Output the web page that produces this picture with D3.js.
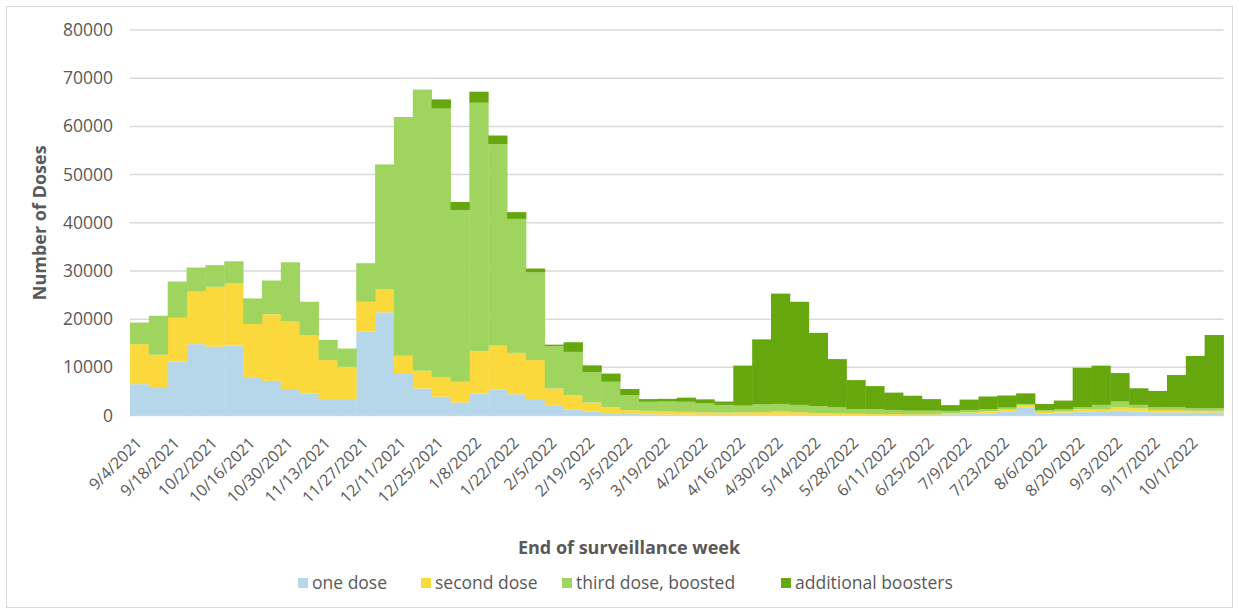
<!DOCTYPE html>
<html>
<head>
<meta charset="utf-8">
<script src="https://cdn.jsdelivr.net/npm/d3@7"></script>
<style>
  html, body { margin: 0; padding: 0; background: #ffffff; }
  svg { display: block; font-family: "Open Sans", "Noto Sans", sans-serif; }
</style>
</head>
<body>
<svg id="chart" width="1239" height="614"></svg>
<script>
// Week-ending dates (surveillance weeks)
const weeks = [
  "9/4/2021","9/11/2021","9/18/2021","9/25/2021","10/2/2021","10/9/2021","10/16/2021","10/23/2021","10/30/2021",
  "11/6/2021","11/13/2021","11/20/2021","11/27/2021","12/4/2021","12/11/2021","12/18/2021","12/25/2021",
  "1/1/2022","1/8/2022","1/15/2022","1/22/2022","1/29/2022","2/5/2022","2/12/2022","2/19/2022","2/26/2022",
  "3/5/2022","3/12/2022","3/19/2022","3/26/2022","4/2/2022","4/9/2022","4/16/2022","4/23/2022","4/30/2022",
  "5/7/2022","5/14/2022","5/21/2022","5/28/2022","6/4/2022","6/11/2022","6/18/2022","6/25/2022",
  "7/2/2022","7/9/2022","7/16/2022","7/23/2022","7/30/2022","8/6/2022","8/13/2022","8/20/2022","8/27/2022",
  "9/3/2022","9/10/2022","9/17/2022","9/24/2022","10/1/2022","10/8/2022"
];

// Doses administered per week, by dose type
const oneDose = [
  6500, 5900, 11200, 14800, 14300, 14500, 7800, 7200, 5500, 4600, 3400, 3400, 17400, 21400, 8800, 5600, 3900,
  2700, 4600, 5400, 4400, 3400, 2000, 1200, 800, 500, 300, 250, 200, 200, 150, 150, 150, 150, 150,
  150, 100, 100, 100, 100, 100, 100, 100, 250, 300, 450, 900, 1700, 450, 600, 800, 750,
  1000, 800, 650, 650, 600, 600
];
const secondDose = [
  8300, 6700, 9100, 11000, 12400, 12900, 11200, 13800, 14000, 12100, 8100, 6700, 6200, 4800, 3600, 3700, 4000,
  4300, 8800, 9100, 8600, 8100, 3600, 3000, 1900, 1200, 800, 700, 600, 550, 500, 450, 500, 550, 650,
  550, 350, 300, 250, 200, 200, 150, 150, 250, 350, 400, 350, 400, 350, 300, 500, 550,
  700, 700, 500, 500, 400, 400
];
const thirdDose = [
  4500, 8100, 7500, 4900, 4500, 4600, 5300, 7000, 12300, 6900, 4200, 3800, 8000, 25900, 49400, 58200, 55800,
  35600, 51500, 41800, 27800, 18200, 8800, 9000, 6300, 5300, 3100, 1900, 2100, 2100, 1850, 1600, 1400, 1600, 1600,
  1500, 1500, 1300, 1000, 1000, 850, 750, 750, 450, 500, 450, 400, 300, 350, 400, 400, 900,
  1200, 700, 550, 550, 500, 500
];
const additionalBoosters = [
  0, 0, 0, 0, 0, 0, 0, 0, 0, 0, 0, 0, 0, 0, 100, 100, 1900,
  1700, 2300, 1800, 1400, 800, 300, 2000, 1400, 1700, 1300, 550, 550, 850, 850, 700, 8300, 13500, 22900,
  21400, 15200, 10000, 6000, 4800, 3600, 3100, 2400, 1200, 2150, 2650, 2500, 2200, 1250, 1800, 8200, 8150,
  5900, 3450, 3400, 6700, 10850, 15200
];

const seriesNames = ["one dose", "second dose", "third dose, boosted", "additional boosters"];
const seriesColors = ["#b6d6ea", "#fbd83b", "#9fd45e", "#65a70c"];
const yTicks = [0, 10000, 20000, 30000, 40000, 50000, 60000, 70000, 80000];

const rows = weeks.map((w, i) => ({
  week: w,
  "one dose": oneDose[i],
  "second dose": secondDose[i],
  "third dose, boosted": thirdDose[i],
  "additional boosters": additionalBoosters[i]
}));

const svg = d3.select("#chart");
const W = 1239, H = 614;
const plot = { left: 130, right: 1223.5, top: 30, bottom: 415.5 };

// outer chart frame
svg.append("rect")
  .attr("x", 6.5).attr("y", 6.5)
  .attr("width", W - 13).attr("height", H - 13)
  .attr("fill", "#ffffff")
  .attr("stroke", "#d9d9d9").attr("stroke-width", 1);

const x = d3.scaleBand()
  .domain(weeks)
  .range([plot.left, plot.right])
  .paddingInner(0).paddingOuter(0);

const y = d3.scaleLinear()
  .domain([0, 80000])
  .range([plot.bottom, plot.top]);

// horizontal gridlines
svg.append("g")
  .selectAll("line")
  .data(yTicks)
  .join("line")
  .attr("x1", plot.left).attr("x2", plot.right)
  .attr("y1", d => y(d)).attr("y2", d => y(d))
  .attr("stroke", "#d9d9d9").attr("stroke-width", 1.5);

// stacked columns with no gap
const stack = d3.stack().keys(seriesNames);
const layers = stack(rows);

svg.append("g")
  .selectAll("g")
  .data(layers)
  .join("g")
  .attr("fill", (d, i) => seriesColors[i])
  .selectAll("rect")
  .data(d => d)
  .join("rect")
  .attr("x", d => x(d.data.week))
  .attr("width", x.bandwidth() + 0.4)
  .attr("y", d => y(d[1]))
  .attr("height", d => Math.max(0, y(d[0]) - y(d[1])));

// y axis labels
const yAxis = d3.axisLeft(y).tickValues(yTicks).tickSize(0).tickPadding(0).tickFormat(d3.format("d"));
const gy = svg.append("g")
  .attr("transform", `translate(${plot.left - 17},0)`)
  .call(yAxis);
gy.select(".domain").remove();
gy.selectAll("text")
  .attr("font-size", 17.5)
  .attr("fill", "#595959")
  .attr("font-family", "'Open Sans', sans-serif");

// x axis labels, every second week, rotated
const labelWeeks = weeks.filter((w, i) => i % 2 === 0);
const xAxis = d3.axisBottom(x).tickValues(labelWeeks).tickSize(0).tickPadding(0);
const gx = svg.append("g")
  .attr("transform", `translate(0,${plot.bottom})`)
  .call(xAxis);
gx.select(".domain").remove();
gx.selectAll(".tick text")
  .attr("font-size", 16)
  .attr("fill", "#595959")
  .attr("font-family", "'Open Sans', sans-serif")
  .attr("text-anchor", "end")
  .attr("dy", null)
  .attr("y", null)
  .attr("transform", "translate(3.5,28.5) rotate(-45)");

// axis titles
svg.append("text")
  .attr("transform", `translate(46,${(plot.top + plot.bottom) / 2}) rotate(-90)`)
  .attr("text-anchor", "middle")
  .attr("font-size", 18)
  .attr("font-weight", "bold")
  .attr("fill", "#595959")
  .text("Number of Doses");

svg.append("text")
  .attr("x", 629).attr("y", 554)
  .attr("text-anchor", "middle")
  .attr("font-size", 18)
  .attr("font-weight", "bold")
  .attr("fill", "#595959")
  .text("End of surveillance week");

// legend
const legendX = [298, 421, 562, 781];
const legend = svg.append("g")
  .selectAll("g")
  .data(seriesNames)
  .join("g")
  .attr("transform", (d, i) => `translate(${legendX[i]},583)`);
legend.append("rect")
  .attr("x", 0).attr("y", -5)
  .attr("width", 10).attr("height", 10)
  .attr("fill", (d, i) => seriesColors[i]);
legend.append("text")
  .attr("x", 14).attr("y", 0)
  .attr("dy", "0.35em")
  .attr("font-size", 17.5)
  .attr("fill", "#595959")
  .text(d => d);
</script>
</body>
</html>
